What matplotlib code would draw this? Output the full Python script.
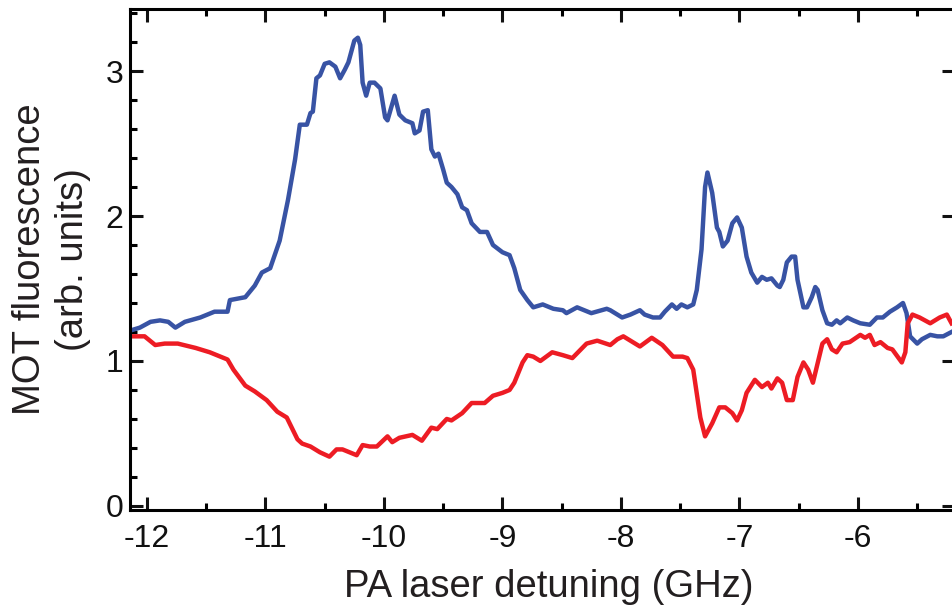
import matplotlib
matplotlib.use("Agg")
import matplotlib.pyplot as plt
from matplotlib.ticker import MultipleLocator

# MOT fluorescence vs PA laser detuning
blue_x = [-12.14, -12.06, -11.97, -11.89, -11.82, -11.76, -11.68, -11.55, -11.43, -11.32,
          -11.30, -11.17, -11.09, -11.03, -10.96, -10.88, -10.81, -10.75, -10.71, -10.65,
          -10.62, -10.60, -10.57, -10.54, -10.50, -10.46, -10.41, -10.37, -10.33, -10.30,
          -10.28, -10.25, -10.22, -10.20, -10.18, -10.15, -10.12, -10.08, -10.03, -9.99,
          -9.97, -9.91, -9.87, -9.82, -9.76, -9.74, -9.70, -9.67, -9.63, -9.60,
          -9.57, -9.54, -9.50, -9.47, -9.43, -9.38, -9.34, -9.30, -9.26, -9.19,
          -9.13, -9.08, -9.00, -8.94, -8.90, -8.85, -8.79, -8.74, -8.66, -8.57,
          -8.49, -8.46, -8.37, -8.25, -8.12, -8.09, -7.99, -7.92, -7.84, -7.80,
          -7.73, -7.67, -7.63, -7.57, -7.53, -7.49, -7.44, -7.39, -7.36, -7.32,
          -7.29, -7.27, -7.23, -7.19, -7.17, -7.14, -7.10, -7.06, -7.02, -6.98,
          -6.94, -6.90, -6.85, -6.81, -6.77, -6.73, -6.68, -6.66, -6.63, -6.60,
          -6.56, -6.53, -6.51, -6.46, -6.43, -6.39, -6.36, -6.34, -6.30, -6.26,
          -6.22, -6.18, -6.15, -6.09, -6.04, -5.98, -5.90, -5.84, -5.79, -5.73,
          -5.67, -5.62, -5.59, -5.56, -5.50, -5.46, -5.39, -5.33, -5.28, -5.21]
blue_y = [1.21, 1.23, 1.27, 1.28, 1.27, 1.23, 1.27, 1.30, 1.34, 1.34,
          1.42, 1.44, 1.52, 1.61, 1.64, 1.83, 2.11, 2.39, 2.63, 2.63,
          2.71, 2.72, 2.95, 2.97, 3.05, 3.06, 3.03, 2.95, 3.01, 3.06,
          3.12, 3.21, 3.23, 3.18, 2.92, 2.83, 2.92, 2.92, 2.88, 2.68,
          2.66, 2.83, 2.70, 2.66, 2.64, 2.57, 2.59, 2.72, 2.73, 2.46,
          2.41, 2.43, 2.32, 2.23, 2.20, 2.15, 2.06, 2.04, 1.95, 1.89,
          1.89, 1.80, 1.75, 1.73, 1.64, 1.49, 1.42, 1.37, 1.39, 1.36,
          1.35, 1.33, 1.37, 1.33, 1.36, 1.35, 1.30, 1.32, 1.35, 1.32,
          1.30, 1.30, 1.34, 1.39, 1.36, 1.39, 1.37, 1.39, 1.49, 1.77,
          2.20, 2.30, 2.16, 1.92, 1.89, 1.79, 1.83, 1.95, 1.99, 1.92,
          1.72, 1.61, 1.54, 1.58, 1.56, 1.57, 1.52, 1.51, 1.56, 1.68,
          1.72, 1.72, 1.56, 1.37, 1.37, 1.44, 1.51, 1.49, 1.35, 1.26,
          1.25, 1.28, 1.26, 1.30, 1.28, 1.26, 1.25, 1.30, 1.30, 1.34,
          1.37, 1.40, 1.33, 1.17, 1.12, 1.15, 1.18, 1.17, 1.17, 1.20]

red_x = [-12.14, -12.02, -11.93, -11.85, -11.74, -11.59, -11.47, -11.32, -11.27, -11.17,
         -11.09, -10.99, -10.90, -10.82, -10.73, -10.69, -10.62, -10.54, -10.46, -10.40,
         -10.35, -10.29, -10.23, -10.18, -10.12, -10.06, -9.97, -9.93, -9.87, -9.76,
         -9.68, -9.60, -9.55, -9.47, -9.43, -9.34, -9.26, -9.15, -9.08, -9.00,
         -8.94, -8.90, -8.83, -8.79, -8.74, -8.68, -8.58, -8.49, -8.41, -8.29,
         -8.20, -8.09, -8.03, -7.98, -7.84, -7.74, -7.65, -7.56, -7.48, -7.44,
         -7.39, -7.33, -7.29, -7.23, -7.17, -7.12, -7.06, -7.02, -6.98, -6.94,
         -6.87, -6.81, -6.76, -6.73, -6.68, -6.64, -6.60, -6.55, -6.51, -6.46,
         -6.42, -6.38, -6.30, -6.26, -6.22, -6.18, -6.13, -6.07, -5.98, -5.94,
         -5.90, -5.86, -5.81, -5.75, -5.71, -5.63, -5.60, -5.58, -5.54, -5.48,
         -5.39, -5.31, -5.25, -5.21]
red_y = [1.17, 1.17, 1.11, 1.12, 1.12, 1.09, 1.06, 1.01, 0.94, 0.83,
         0.79, 0.73, 0.65, 0.61, 0.46, 0.43, 0.41, 0.37, 0.34, 0.39,
         0.39, 0.37, 0.35, 0.42, 0.41, 0.41, 0.48, 0.44, 0.47, 0.49,
         0.45, 0.54, 0.53, 0.60, 0.59, 0.64, 0.71, 0.71, 0.76, 0.78,
         0.80, 0.85, 0.99, 1.04, 1.03, 1.00, 1.06, 1.04, 1.02, 1.12,
         1.14, 1.11, 1.15, 1.17, 1.10, 1.16, 1.11, 1.03, 1.03, 1.02,
         0.94, 0.61, 0.48, 0.57, 0.68, 0.68, 0.64, 0.59, 0.66, 0.78,
         0.87, 0.82, 0.85, 0.81, 0.88, 0.85, 0.73, 0.73, 0.89, 0.99,
         0.94, 0.85, 1.12, 1.15, 1.08, 1.06, 1.12, 1.13, 1.18, 1.16,
         1.18, 1.11, 1.13, 1.09, 1.08, 0.99, 1.06, 1.26, 1.32, 1.30,
         1.26, 1.30, 1.32, 1.26]

plt.rcParams['font.family'] = ['Liberation Sans', 'DejaVu Sans']
plt.rcParams['axes.unicode_minus'] = False

fig = plt.figure(figsize=(9.52, 6.12), dpi=100)
ax = fig.add_axes([130/952, 1 - 510/612, 825/952, 501/612])

ax.plot(blue_x, blue_y, color='#3853a4', lw=3.2, solid_joinstyle='round')
ax.plot(red_x, red_y, color='#ed1c24', lw=3.2, solid_joinstyle='round')

ax.set_xlim(-12.143, -5.181)
ax.set_ylim(-0.028, 3.428)

ax.xaxis.set_major_locator(MultipleLocator(1))
ax.xaxis.set_minor_locator(MultipleLocator(0.5))
ax.yaxis.set_major_locator(MultipleLocator(1))
ax.yaxis.set_minor_locator(MultipleLocator(0.2))

for s in ax.spines.values():
    s.set_linewidth(2.2)

ax.tick_params(which='major', direction='in', length=9.5, width=2.2,
               top=True, right=True, labelsize=23, colors='#111111')
ax.tick_params(which='minor', direction='in', length=5, width=2.2,
               top=True, right=False)
ax.tick_params(axis='x', which='major', pad=10)
ax.tick_params(axis='y', which='major', pad=5)

ax.set_xlabel('PA laser detuning (GHz)', fontsize=27.5, color='#231f20')
ax.xaxis.set_label_coords(0.507, -0.117)
ax.set_ylabel('MOT fluorescence\n(arb. units)', fontsize=27.5, color='#231f20',
              va='center', multialignment='center', linespacing=1.25)
ax.yaxis.set_label_coords(-0.095, 0.5)

fig.savefig('out.png', dpi=100)
